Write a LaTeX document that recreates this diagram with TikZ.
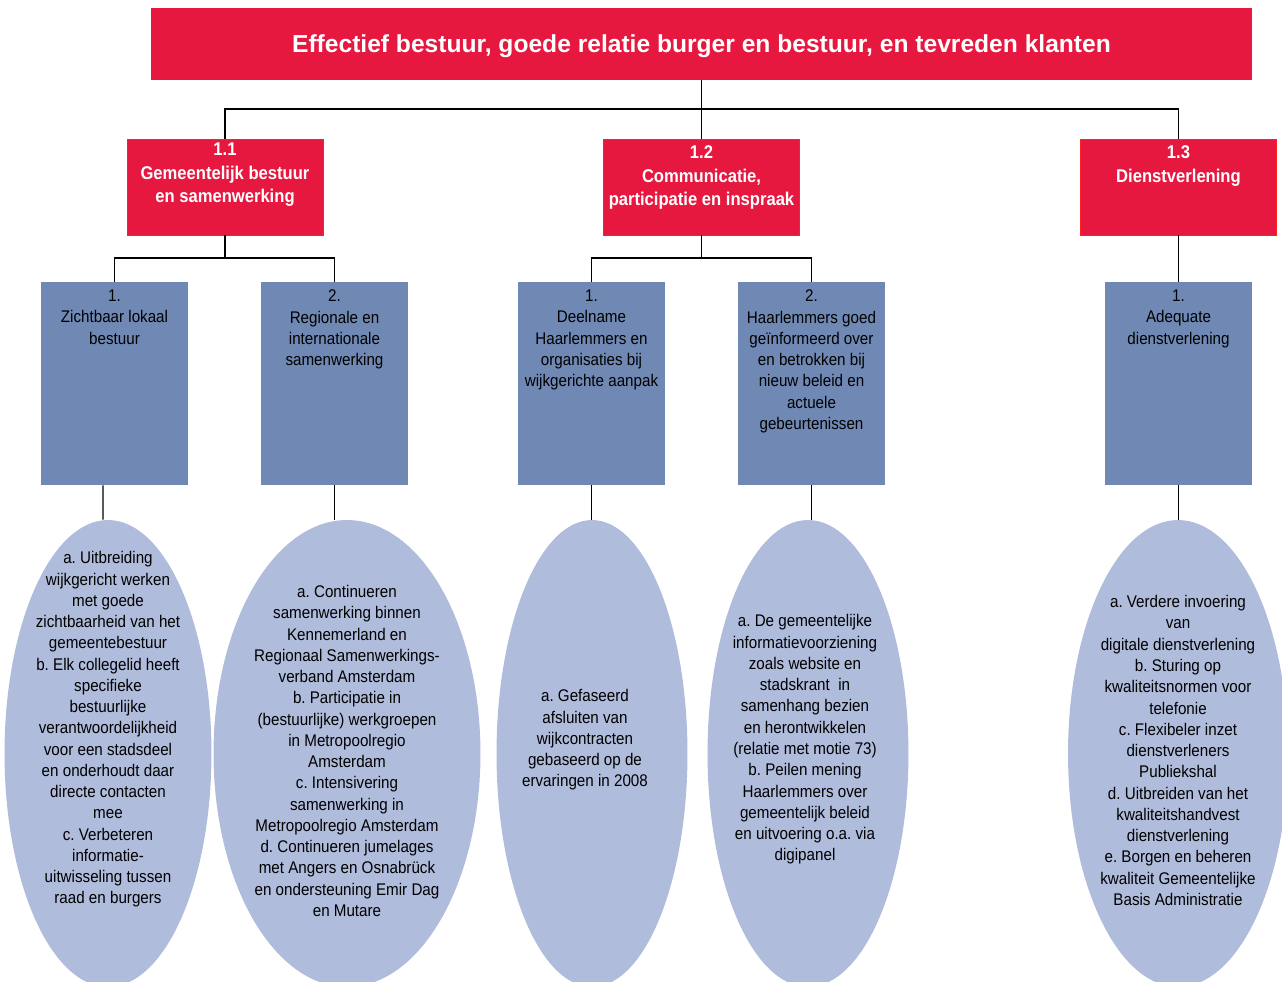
\documentclass[tikz,border=0pt]{standalone}
\usepackage{fontspec}
\setmainfont{Liberation Sans}[FakeStretch=0.9]
\newfontfamily\titelfont{Liberation Sans}
\usetikzlibrary{shapes.geometric,positioning}
\definecolor{kopRood}{HTML}{E6183F}
\definecolor{randRood}{HTML}{FF2020}
\definecolor{doelBlauw}{HTML}{6F89B4}
\definecolor{actieBlauw}{HTML}{B0BCDC}
\frenchspacing

\begin{document}
\begin{tikzpicture}[x=0.02cm, y=-0.02cm,
    kop/.style={fill=kopRood, draw=randRood, line width=0.4pt, inner sep=0, minimum width=3.92cm, minimum height=1.92cm},
    doel/.style={fill=doelBlauw, inner sep=0, minimum width=2.94cm, minimum height=4.06cm},
    actie/.style={ellipse, fill=actieBlauw, inner sep=0, minimum height=9.34cm},
    koptekst/.style={text=white, font=\bfseries\fontsize{10.5}{13.3}\selectfont, align=center, anchor=north, inner sep=0},
    gewoon/.style={font=\fontsize{9.6}{12.1}\selectfont, align=center, inner sep=0},
    lijn/.style={line width=0.75pt}]
        \clip (0,0) rectangle (1282,982);

        % hoofddoel
        \node[fill=kopRood, inner sep=0, minimum width=22.02cm, minimum height=1.44cm, text depth=0pt,
              text=white, font=\titelfont\bfseries\fontsize{14}{16}\selectfont] (hoofd) at (701.5,44)
              {Effectief bestuur, goede relatie burger en bestuur, en tevreden klanten};

        % programma's
        \node[kop] (p11) at (225,187) {};
        \node[kop] (p12) at (701.5,187) {};
        \node[kop] (p13) at (1178.5,187) {};
        \node[koptekst] (p11t) at ([yshift=-0.08cm]p11.north) {1.1\\Gemeentelijk bestuur\\en samenwerking};
        \node[koptekst] (p12t) at ([yshift=-0.14cm]p12.north) {1.2\\Communicatie,\\participatie en inspraak};
        \node[koptekst] (p13t) at ([yshift=-0.14cm]p13.north) {1.3\\Dienstverlening};

        % doelen
        \node[doel] (b11) at (114.5,383.5) {};
        \node[doel] (b12) at (334.5,383.5) {};
        \node[doel] (b21) at (591.5,383.5) {};
        \node[doel] (b22) at (811.5,383.5) {};
        \node[doel] (b31) at (1178.5,383.5) {};
        \node[gewoon, anchor=north] (b11t) at ([yshift=-0.16cm]b11.north) {1.\\Zichtbaar lokaal\\bestuur};
        \node[gewoon, anchor=north] (b12t) at ([yshift=-0.16cm]b12.north) {2.\\Regionale en\\internationale\\samenwerking};
        \node[gewoon, anchor=north] (b21t) at ([yshift=-0.16cm]b21.north) {1.\\Deelname\\Haarlemmers en\\organisaties bij\\wijkgerichte aanpak};
        \node[gewoon, anchor=north] (b22t) at ([yshift=-0.16cm]b22.north) {2.\\Haarlemmers goed\\geïnformeerd over\\en betrokken bij\\nieuw beleid en\\actuele\\gebeurtenissen};
        \node[gewoon, anchor=north] (b31t) at ([yshift=-0.16cm]b31.north) {1.\\Adequate\\dienstverlening};

        % acties
        \node[actie, minimum width=4.14cm] (a11) at (108,753.5) {};
        \node[actie, minimum width=5.34cm] (a12) at (347,753.5) {};
        \node[actie, minimum width=3.82cm] (a21) at (592,753.5) {};
        \node[actie, minimum width=4.02cm] (a22) at (808,753.5) {};
        \node[actie, minimum width=4.40cm] (a31) at (1178,753.5) {};
        \node[gewoon] (a11t) at (108,729.5) {a. Uitbreiding\\wijkgericht werken\\met goede\\zichtbaarheid van het\\gemeentebestuur\\b. Elk collegelid heeft\\specifieke\\bestuurlijke\\verantwoordelijkheid\\voor een stadsdeel\\en onderhoudt daar\\directe contacten\\mee\\c. Verbeteren\\informatie-\\uitwisseling tussen\\raad en burgers};
        \node[gewoon] (a12t) at (347,751) {a. Continueren\\samenwerking binnen\\Kennemerland en\\Regionaal Samenwerkings-\\verband Amsterdam\\b. Participatie in\\(bestuurlijke) werkgroepen\\in Metropoolregio\\Amsterdam\\c. Intensivering\\samenwerking in\\Metropoolregio Amsterdam\\d. Continueren jumelages\\met Angers en Osnabrück\\en ondersteuning Emir Dag\\en Mutare};
        \node[gewoon] (a21t) at (585,740) {a. Gefaseerd\\afsluiten van\\wijkcontracten\\gebaseerd op de\\ervaringen in 2008};
        \node[gewoon] (a22t) at (805,739.5) {a. De gemeentelijke\\informatievoorziening\\zoals website en\\stadskrant~ in\\samenhang bezien\\en herontwikkelen\\(relatie met motie 73)\\b. Peilen mening\\Haarlemmers over\\gemeentelijk beleid\\en uitvoering o.a. via\\digipanel};
        \node[gewoon] (a31t) at (1178,750.5) {a. Verdere invoering\\van\\digitale dienstverlening\\b. Sturing op\\kwaliteitsnormen voor\\telefonie\\c. Flexibeler inzet\\dienstverleners\\Publiekshal\\d. Uitbreiden van het\\kwaliteitshandvest\\dienstverlening\\e. Borgen en beheren\\kwaliteit Gemeentelijke\\Basis Administratie};

        % verbindingen
        \coordinate (k0) at (701.5,109);
        \draw[lijn] (hoofd.south) -- (k0);
        \draw[lijn] (p11.north) |- (k0) -| (p13.north);
        \draw[lijn] (k0) -- (p12.north);

        \coordinate (k1) at (225,258);
        \draw[lijn] (p11.south) -- (k1);
        \draw[lijn] (b11.north) |- (k1) -| (b12.north);
        \coordinate (k2) at (701.5,258);
        \draw[lijn] (p12.south) -- (k2);
        \draw[lijn] (b21.north) |- (k2) -| (b22.north);
        \draw[lijn] (p13.south) -- (b31.north);

        \draw[lijn] ([xshift=-0.23cm]b11.south) -- ([xshift=-0.1cm]a11.north);
        \draw[lijn] (b12.south) -- (b12.south |- a12.north);
        \draw[lijn] (b21.south) -- (b21.south |- a21.north);
        \draw[lijn] (b22.south) -- (b22.south |- a22.north);
        \draw[lijn] (b31.south) -- (b31.south |- a31.north);
\end{tikzpicture}
\end{document}
